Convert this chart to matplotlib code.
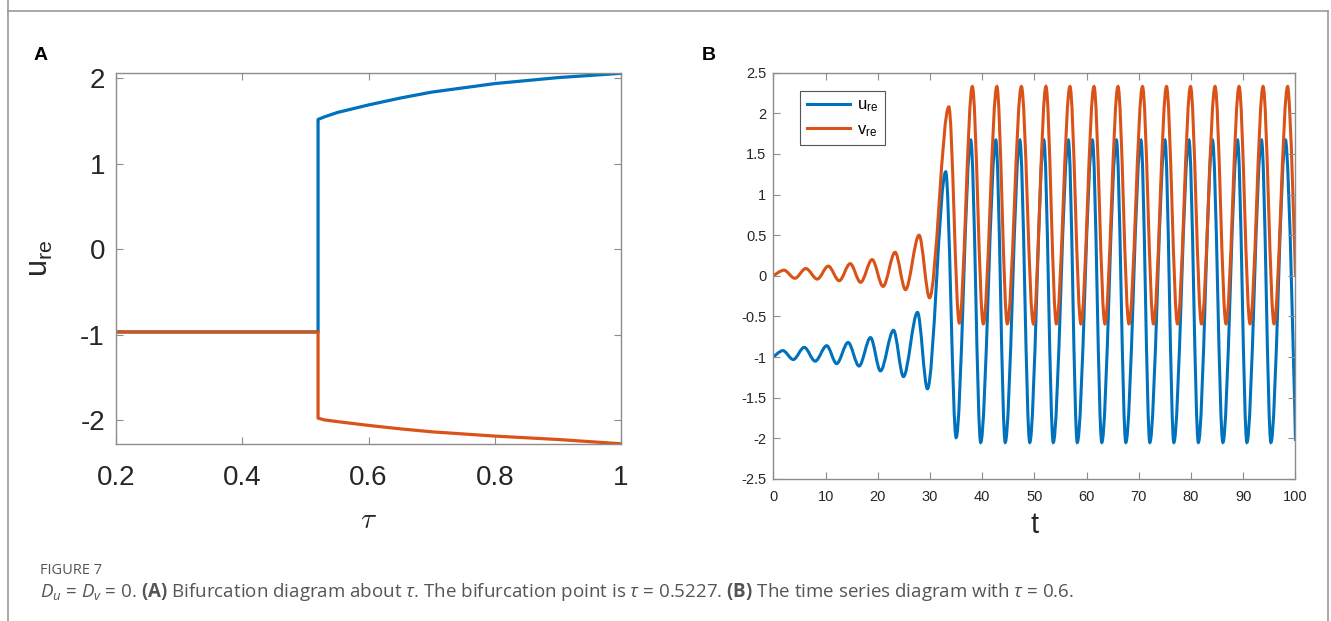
import matplotlib
matplotlib.use('Agg')
import matplotlib.pyplot as plt
from matplotlib.path import Path
from matplotlib.patches import PathPatch
from matplotlib.lines import Line2D
from matplotlib.ticker import FormatStrFormatter

plt.rcParams['font.family'] = ['Liberation Sans', 'DejaVu Sans']
plt.rcParams['axes.unicode_minus'] = False
plt.rcParams['mathtext.fontset'] = 'custom'
plt.rcParams['mathtext.rm'] = 'Open Sans'
plt.rcParams['mathtext.it'] = 'Open Sans:italic'
plt.rcParams['mathtext.bf'] = 'Open Sans:bold'

blue = '#0072BD'
orange = '#D95319'
boxcol = '#8c8c8c'
txtcol = '#262626'

# panel A: bifurcation diagram (branches)
tau_branch = [0.2, 0.52, 0.52, 0.53, 0.55, 0.6, 0.65, 0.7, 0.8, 0.9, 1.0]
u_max = [-0.97, -0.97, 1.52, 1.55, 1.60, 1.69, 1.77, 1.84, 1.94, 2.01, 2.06]
u_min = [-0.97, -0.97, -1.98, -2.0, -2.02, -2.065, -2.105, -2.14, -2.19, -2.23, -2.28]

# panel B: time series, turning points
t_u = [0, 1.8, 3.8, 5.9, 8.0, 10.2, 12.1, 14.3, 16.4, 18.6, 20.5, 23.0, 24.9,
       27.6, 29.5, 33.0, 35.0, 37.8, 39.7, 42.6, 44.4, 47.2, 49.1, 51.8, 53.6,
       56.5, 58.2, 61.1, 62.9, 65.7, 67.5, 70.4, 72.1, 75.0, 76.7, 79.6, 81.4,
       84.1, 86.1, 88.9, 90.7, 93.5, 95.3, 98.1, 100]
u_re = [-1.0, -0.92, -1.03, -0.88, -1.05, -0.86, -1.08, -0.82, -1.11, -0.76,
        -1.17, -0.67, -1.24, -0.45, -1.39, 1.28, -1.99, 1.67, -2.05, 1.67,
        -2.05, 1.67, -2.05, 1.67, -2.05, 1.67, -2.05, 1.67, -2.05, 1.67, -2.05,
        1.67, -2.05, 1.67, -2.05, 1.67, -2.05, 1.67, -2.05, 1.67, -2.05, 1.67,
        -2.05, 1.67, -2.03]
t_v = [0, 2.0, 4.1, 6.2, 8.4, 10.5, 12.6, 14.7, 16.7, 18.9, 21.0, 23.3, 25.3,
       27.9, 29.9, 33.6, 35.6, 38.1, 40.2, 42.8, 44.8, 47.5, 49.8, 52.2, 54.2,
       56.8, 58.9, 61.4, 63.5, 66.0, 68.1, 70.7, 72.8, 75.3, 77.4, 79.9, 82.0,
       84.6, 86.7, 89.2, 91.3, 93.8, 95.9, 98.5, 100]
v_re = [0.0, 0.07, -0.03, 0.09, -0.04, 0.12, -0.06, 0.15, -0.08, 0.20, -0.13,
        0.29, -0.17, 0.50, -0.27, 2.08, -0.58, 2.33, -0.59, 2.33, -0.59, 2.33,
        -0.59, 2.33, -0.59, 2.33, -0.59, 2.33, -0.59, 2.33, -0.59, 2.33, -0.59,
        2.33, -0.59, 2.33, -0.59, 2.33, -0.59, 2.33, -0.59, 2.33, -0.59, 2.33,
        0.0]


def wave_path(t, y):
    # smooth bezier through the turning points, flat tangent at each extremum
    verts = [(t[0], y[0])]
    codes = [Path.MOVETO]
    n = len(t)
    for i in range(n - 1):
        dt = t[i + 1] - t[i]
        c1 = (t[i] + dt / 3, y[i]) if i > 0 else (t[i], y[i])
        c2 = (t[i + 1] - dt / 3, y[i + 1]) if i < n - 2 else (t[i + 1], y[i + 1])
        verts += [c1, c2, (t[i + 1], y[i + 1])]
        codes += [Path.CURVE4] * 3
    return Path(verts, codes)


def style_box(ax):
    for s in ax.spines.values():
        s.set_color(boxcol)
        s.set_linewidth(1.0)
    ax.tick_params(direction='in', top=True, right=True, color=boxcol,
                   labelcolor=txtcol, length=5)


fig = plt.figure(figsize=(13.31, 6.21), dpi=100)

# panel A
axA = fig.add_axes([0.0872, 0.285, 0.3794, 0.598])
axA.plot(tau_branch, u_max, color=blue, lw=2.3)
axA.plot(tau_branch, u_min, color=orange, lw=2.3)
axA.set_xlim(0.2, 1.0)
axA.set_ylim(-2.283, 2.068)
axA.set_xticks([0.2, 0.4, 0.6, 0.8, 1.0])
axA.set_xticklabels(['0.2', '0.4', '0.6', '0.8', '1'])
axA.set_yticks([-2, -1, 0, 1, 2])
style_box(axA)
axA.tick_params(axis='x', labelsize=20, pad=15)
axA.tick_params(axis='y', labelsize=20, pad=8)
axA.set_xlabel(r'$\tau$', fontsize=21, math_fontfamily='cm', color=txtcol,
               labelpad=11)
axA.set_ylabel(r'u$_{\mathregular{re}}$', fontsize=22, color=txtcol, labelpad=18)

# panel B
axB = fig.add_axes([0.5811, 0.2287, 0.3922, 0.6542])
axB.add_patch(PathPatch(wave_path(t_u, u_re), facecolor='none',
                        edgecolor=blue, lw=2.2))
axB.add_patch(PathPatch(wave_path(t_v, v_re), facecolor='none',
                        edgecolor=orange, lw=2.2))
axB.set_xlim(0, 100)
axB.set_ylim(-2.5, 2.5)
axB.set_xticks(range(0, 101, 10))
axB.set_yticks([-2.5, -2, -1.5, -1, -0.5, 0, 0.5, 1, 1.5, 2, 2.5])
axB.yaxis.set_major_formatter(FormatStrFormatter('%g'))
style_box(axB)
axB.tick_params(labelsize=10.5)
axB.tick_params(axis='x', pad=8)
axB.tick_params(axis='y', pad=5)
axB.set_xlabel('t', fontsize=21, color=txtcol, labelpad=5)
handles = [Line2D([], [], color=blue, lw=2.2), Line2D([], [], color=orange, lw=2.2)]
leg = axB.legend(handles, [r'u$_{\mathregular{re}}$', r'v$_{\mathregular{re}}$'],
                 loc='upper left', bbox_to_anchor=(0.051, 0.955),
                 borderaxespad=0, fontsize=12, handlelength=2.6,
                 fancybox=False, framealpha=1, edgecolor='#555555',
                 borderpad=0.4, labelspacing=0.45, handletextpad=0.4)
leg.get_frame().set_linewidth(0.8)

# panel letters
fig.text(34 / 1331, 1 - 56 / 621, 'A', fontsize=14, fontweight='bold',
         va='center', ha='left')
fig.text(702 / 1331, 1 - 56 / 621, 'B', fontsize=14, fontweight='bold',
         va='center', ha='left')

# caption
fig.text(40 / 1331, 1 - 571 / 621, 'FIGURE 7', fontsize=10.5, color='#555555',
         family='Open Sans', va='center', ha='left')
fig.text(40 / 1331, 1 - 592 / 621,
         r'$D_u$ = $D_v$ = 0. $\mathbf{(A)}$ Bifurcation diagram about $\tau$. '
         r'The bifurcation point is $\tau$ = 0.5227. $\mathbf{(B)}$ The time '
         r'series diagram with $\tau$ = 0.6.',
         fontsize=13.5, color='#555555', family='Open Sans', va='center',
         ha='left')

# outer frame
for xs, ys in [([8, 8], [0, 11]), ([8, 1328], [11, 11]), ([1328, 1328], [11, 621])]:
    fig.add_artist(Line2D([x / 1331 for x in xs], [1 - y / 621 for y in ys],
                          color='#999999', lw=1.2))
fig.add_artist(Line2D([8 / 1331, 8 / 1331], [0, 1 - 11 / 621], color='#999999', lw=1.2))

fig.savefig('out.png', dpi=100)
